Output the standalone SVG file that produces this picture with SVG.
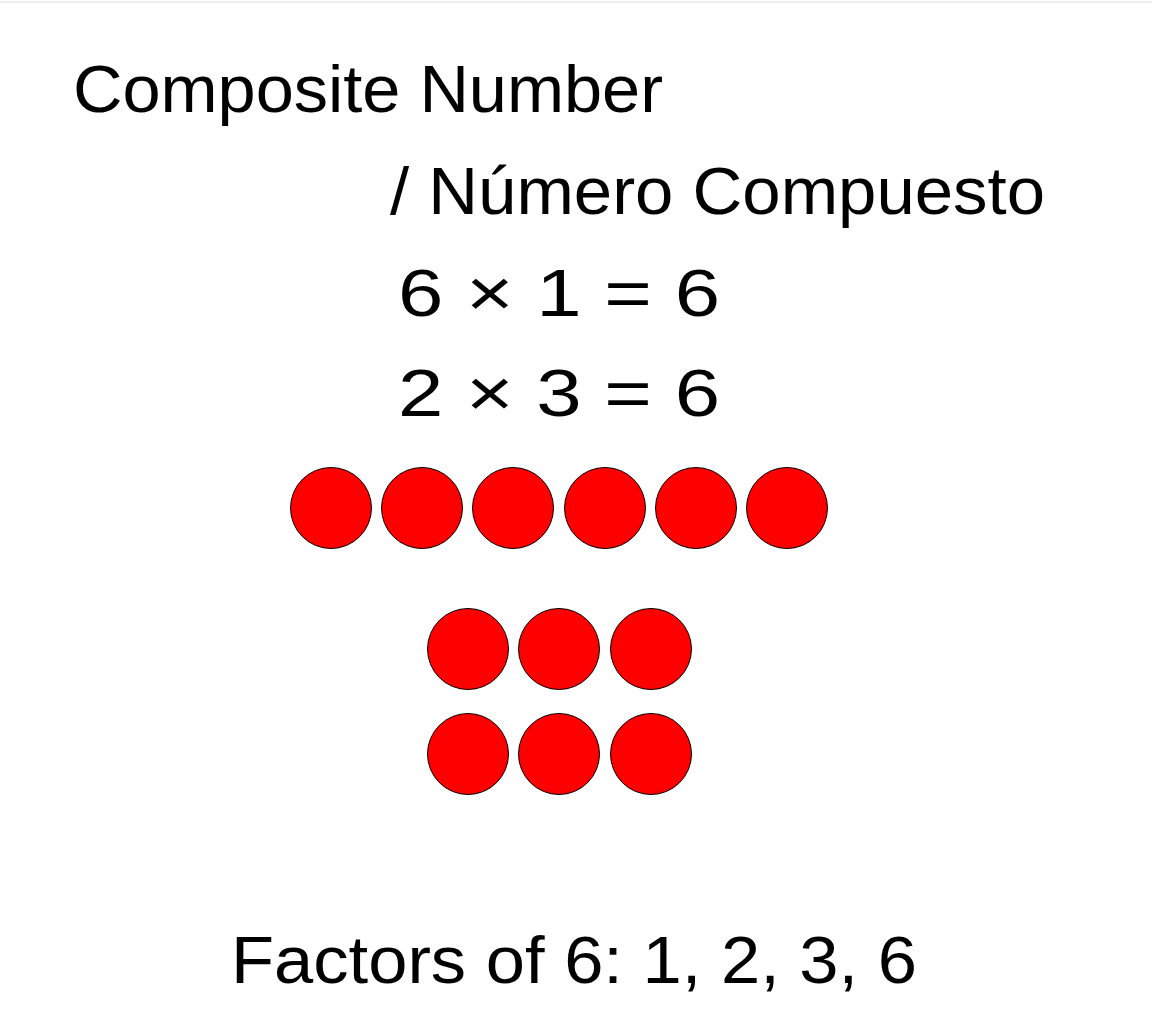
<svg xmlns="http://www.w3.org/2000/svg" width="1152" height="1028" viewBox="0 0 1152 1028">
<style>
.t{font-family:"Liberation Sans","DejaVu Sans",sans-serif;font-size:66px;fill:#000}
.d{fill:#ff0000;stroke:#000;stroke-width:1}
</style>
<rect x="0" y="0" width="1152" height="1028" fill="#fff"/>
<rect x="0" y="1" width="1152" height="2" fill="#efefef"/>
<g id="title">
<text class="t" x="73" y="112" textLength="590" lengthAdjust="spacingAndGlyphs">Composite Number</text>
<text class="t" x="390" y="214" textLength="655" lengthAdjust="spacingAndGlyphs">/ Número Compuesto</text>
</g>
<g id="equations">
<text class="t" x="398" y="316" textLength="322" lengthAdjust="spacingAndGlyphs">6 × 1 = 6</text>
<text class="t" x="398" y="416" textLength="322" lengthAdjust="spacingAndGlyphs">2 × 3 = 6</text>
</g>
<g id="row6">
<circle class="d" cx="331" cy="508" r="40.5"/>
<circle class="d" cx="422" cy="508" r="40.5"/>
<circle class="d" cx="513" cy="508" r="40.5"/>
<circle class="d" cx="605" cy="508" r="40.5"/>
<circle class="d" cx="696" cy="508" r="40.5"/>
<circle class="d" cx="787" cy="508" r="40.5"/>
</g>
<g id="grid2x3">
<circle class="d" cx="468" cy="649" r="40.5"/>
<circle class="d" cx="559" cy="649" r="40.5"/>
<circle class="d" cx="651" cy="649" r="40.5"/>
<circle class="d" cx="468" cy="754" r="40.5"/>
<circle class="d" cx="559" cy="754" r="40.5"/>
<circle class="d" cx="651" cy="754" r="40.5"/>
</g>
<g id="factors">
<text class="t" x="231" y="983" textLength="686" lengthAdjust="spacingAndGlyphs">Factors of 6: 1, 2, 3, 6</text>
</g>
</svg>
